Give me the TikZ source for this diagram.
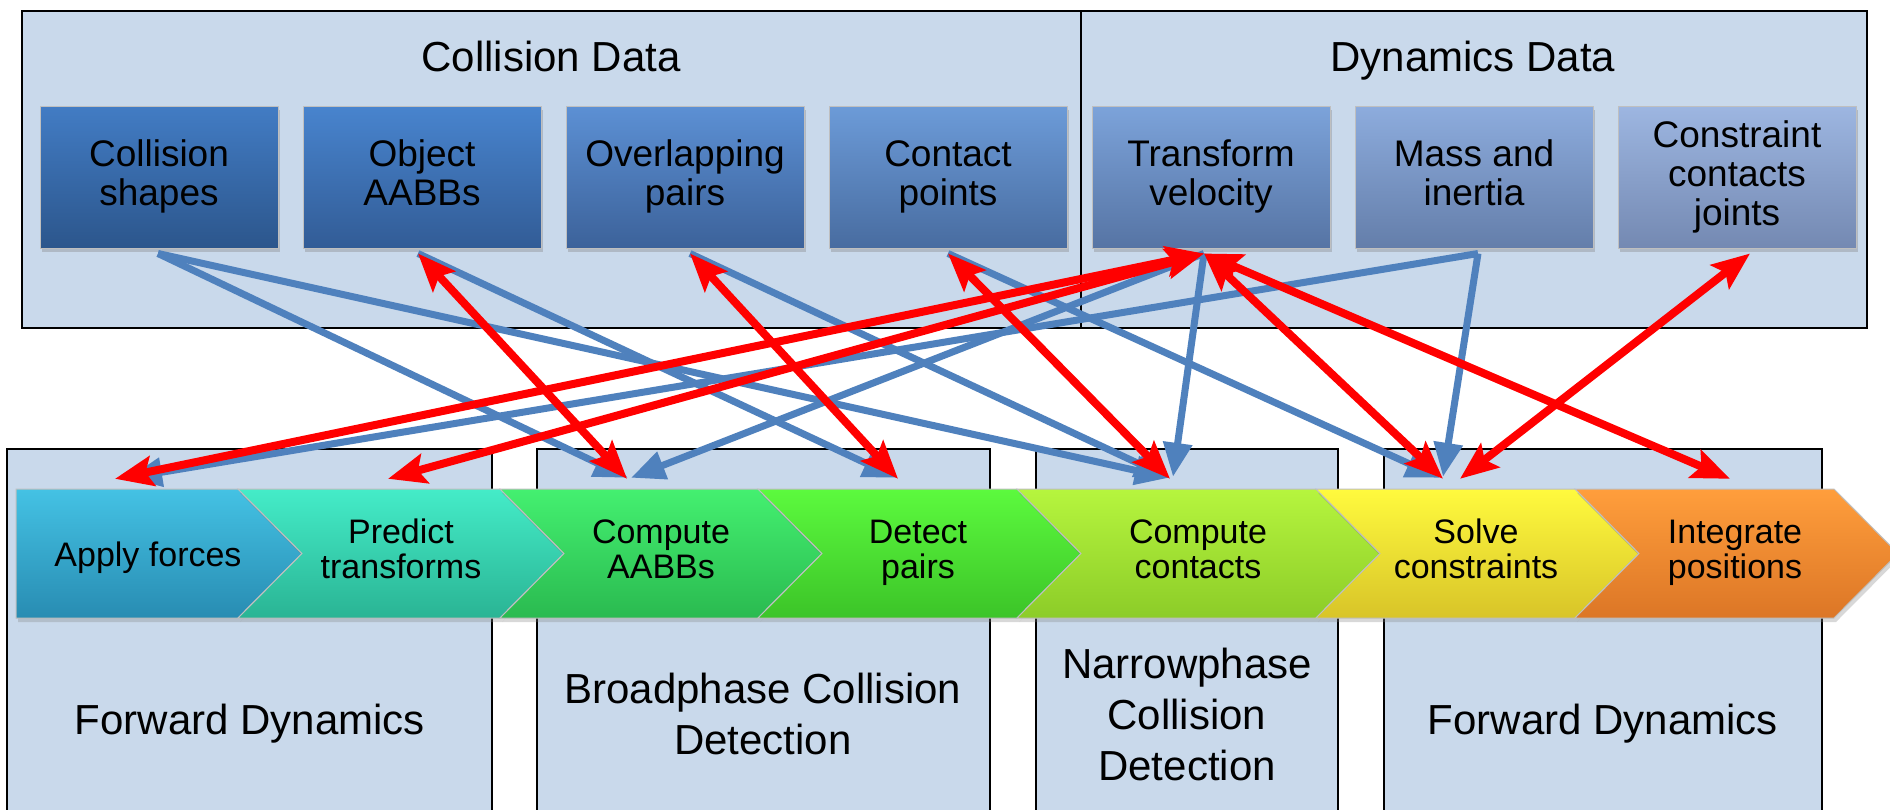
\documentclass[tikz,border=0pt]{standalone}
\usepackage{fontspec}
\setmainfont{Liberation Sans}
\usetikzlibrary{arrows.meta,shadows,positioning}

\definecolor{panelfill}{RGB}{201,217,235}
\definecolor{readblue}{RGB}{79,129,189}
\definecolor{writered}{RGB}{255,0,0}
% data boxes, top and bottom shades
\definecolor{shapesA}{RGB}{66,124,196}   \definecolor{shapesB}{RGB}{44,86,140}
\definecolor{objectA}{RGB}{72,132,206}   \definecolor{objectB}{RGB}{50,92,150}
\definecolor{overlapA}{RGB}{92,144,212}  \definecolor{overlapB}{RGB}{60,98,154}
\definecolor{contactA}{RGB}{108,155,216} \definecolor{contactB}{RGB}{72,108,160}
\definecolor{transfA}{RGB}{124,163,218}  \definecolor{transfB}{RGB}{86,116,164}
\definecolor{massA}{RGB}{141,172,221}    \definecolor{massB}{RGB}{100,126,170}
\definecolor{jointsA}{RGB}{157,182,225}  \definecolor{jointsB}{RGB}{116,137,178}
% pipeline stages
\definecolor{applyA}{RGB}{68,194,228}    \definecolor{applyB}{RGB}{40,140,178}
\definecolor{predictA}{RGB}{68,236,200}  \definecolor{predictB}{RGB}{42,180,148}
\definecolor{aabbsA}{RGB}{68,240,112}    \definecolor{aabbsB}{RGB}{42,186,80}
\definecolor{detectA}{RGB}{92,250,62}    \definecolor{detectB}{RGB}{60,196,40}
\definecolor{ccontA}{RGB}{182,245,62}    \definecolor{ccontB}{RGB}{140,204,40}
\definecolor{solveA}{RGB}{255,250,62}    \definecolor{solveB}{RGB}{216,196,40}
\definecolor{integA}{RGB}{255,158,60}    \definecolor{integB}{RGB}{220,118,38}

\tikzset{
    panel/.style = {draw=black, line width=2.5pt, fill=panelfill},
    paneltext/.style = {font=\fontsize{42}{51}\selectfont, align=center, inner sep=0pt,
        execute at begin node=\rule{0pt}{42pt}, execute at end node=\rule[-10pt]{0pt}{10pt}},
    databox/.style 2 args = {draw=black!25, line width=1pt, top color=#1, bottom color=#2,
        minimum width=238pt, minimum height=142pt, inner sep=0pt, align=center,
        font=\fontsize{37}{39}\selectfont,
        execute at begin node=\rule{0pt}{40pt}, execute at end node=\rule[-8pt]{0pt}{8pt},
        drop shadow={shadow xshift=2pt, shadow yshift=-4pt, opacity=0.35}},
    chevron/.style 2 args = {draw=black!25, line width=1pt, top color=#1, bottom color=#2,
        drop shadow={shadow xshift=2pt, shadow yshift=-4pt, opacity=0.3}},
    stage/.style = {minimum height=129pt, inner sep=0pt, align=center,
        font=\fontsize{34}{35}\selectfont,
        execute at begin node=\rule{0pt}{34pt}, execute at end node=\rule[-9pt]{0pt}{9pt}},
    rd/.style = {draw=readblue, line width=7pt, -{Triangle[length=34pt,width=28pt]}},
    rw/.style = {draw=writered, line width=8pt, <->,
        >={Stealth[length=38pt,width=30pt,inset=7pt]}}
}

\begin{document}
\begin{tikzpicture}[x=1pt, y=-1pt]
    \useasboundingbox (0,0) rectangle (1890,809);
    \clip (0,0) rectangle (1890,809);
    \fill[white] (0,0) rectangle (1890,809);

    % data panels
    \draw[panel] (22,11) rectangle (1081,328);
    \draw[panel] (1081,11) rectangle (1867,328);
    \node[paneltext] (coldata) at (551,55) {Collision Data};
    \node[paneltext] (dyndata) at (1473,55) {Dynamics Data};

    % stage panels
    \draw[panel] (7,449) rectangle (492,830);
    \draw[panel] (537,449) rectangle (990,830);
    \draw[panel] (1036,449) rectangle (1338,830);
    \draw[panel] (1384,449) rectangle (1822,830);
    \node[paneltext] (fwdA) at (250,718) {Forward Dynamics};
    \node[paneltext] (broad) at (763,719) {Broadphase Collision\\Detection};
    \node[paneltext] (narrow) at (1187,719) {Narrowphase\\Collision\\Detection};
    \node[paneltext] (fwdB) at (1603,718) {Forward Dynamics};

    % data
    \node[databox={shapesA}{shapesB}] (shapes) at (159,177) {Collision\\shapes};
    \node[databox={objectA}{objectB}] (object) [right=24pt of shapes] {Object\\AABBs};
    \node[databox={overlapA}{overlapB}] (overlap) [right=24pt of object] {Overlapping\\pairs};
    \node[databox={contactA}{contactB}] (contactpts) [right=24pt of overlap] {Contact\\points};
    \node[databox={transfA}{transfB}] (tv) [right=24pt of contactpts] {Transform\\velocity};
    \node[databox={massA}{massB}] (mass) [right=24pt of tv] {Mass and\\inertia};
    \node[databox={jointsA}{jointsB}] (joints) [right=24pt of mass] {Constraint\\contacts\\joints};

    % pipeline
    \path[chevron={applyA}{applyB}] (16,489) -- (238,489) -- (302,553.5) -- (238,618) -- (16,618) -- cycle;
    \path[chevron={predictA}{predictB}] (238,489) -- (500,489) -- (564,553.5) -- (500,618) -- (238,618) -- (302,553.5) -- cycle;
    \path[chevron={aabbsA}{aabbsB}] (500,489) -- (758,489) -- (822,553.5) -- (758,618) -- (500,618) -- (564,553.5) -- cycle;
    \path[chevron={detectA}{detectB}] (758,489) -- (1017,489) -- (1081,553.5) -- (1017,618) -- (758,618) -- (822,553.5) -- cycle;
    \path[chevron={ccontA}{ccontB}] (1017,489) -- (1316,489) -- (1380,553.5) -- (1316,618) -- (1017,618) -- (1081,553.5) -- cycle;
    \path[chevron={solveA}{solveB}] (1316,489) -- (1575,489) -- (1639,553.5) -- (1575,618) -- (1316,618) -- (1380,553.5) -- cycle;
    \path[chevron={integA}{integB}] (1575,489) -- (1834,489) -- (1898,553.5) -- (1834,618) -- (1575,618) -- (1639,553.5) -- cycle;

    \node[stage] (apply) at (148,553.5) {Apply forces};
    \node[stage] (predict) at (401,553.5) {Predict\\transforms};
    \node[stage] (aabbs) at (661,553.5) {Compute\\AABBs};
    \node[stage] (detect) at (918,553.5) {Detect\\pairs};
    \node[stage] (contacts) at (1198,553.5) {Compute\\contacts};
    \node[stage] (solve) at (1476,553.5) {Solve\\constraints};
    \node[stage] (integrate) at (1735,553.5) {Integrate\\positions};

    % reads
    \draw[rd] ([xshift=-1pt,yshift=-5pt]shapes.south) -- ([xshift=-33pt,yshift=11pt]aabbs.north);
    \draw[rd] ([xshift=-1pt,yshift=-5pt]shapes.south) -- ([xshift=-29pt,yshift=11pt]contacts.north);
    \draw[rd] ([xshift=-4pt,yshift=-5pt]object.south) -- ([xshift=-21pt,yshift=11pt]detect.north);
    \draw[rd] ([xshift=5pt,yshift=-5pt]overlap.south) -- ([xshift=-29pt,yshift=11pt]contacts.north);
    \draw[rd] ([yshift=-5pt]contactpts.south) -- ([xshift=-36pt,yshift=11pt]solve.north);
    \draw[rd] ([xshift=-7pt,yshift=-5pt]tv.south) -- ([xshift=-30pt,yshift=11pt]aabbs.north);
    \draw[rd] ([xshift=-7pt,yshift=-5pt]tv.south) -- ([xshift=-25pt,yshift=12pt]contacts.north);
    \draw[rd] ([xshift=4pt,yshift=-5pt]mass.south) -- ([xshift=-20pt,yshift=11pt]apply.north);
    \draw[rd] ([xshift=4pt,yshift=-5pt]mass.south) -- ([xshift=-33pt,yshift=12pt]solve.north);

    % read and write
    \draw[rw] ([xshift=-4pt,yshift=-5pt]object.south) -- ([xshift=-34pt,yshift=10pt]aabbs.north);
    \draw[rw] ([xshift=5pt,yshift=-5pt]overlap.south) -- ([xshift=-20pt,yshift=10pt]detect.north);
    \draw[rw] ([yshift=-5pt]contactpts.south) -- ([xshift=-28pt,yshift=10pt]contacts.north);
    \draw[rw] ([xshift=-7pt,yshift=-5pt]tv.south) -- ([xshift=-33pt,yshift=10pt]apply.north);
    \draw[rw] ([xshift=-7pt,yshift=-5pt]tv.south) -- ([xshift=-13pt,yshift=10pt]predict.north);
    \draw[rw] ([xshift=-7pt,yshift=-5pt]tv.south) -- ([xshift=-33pt,yshift=10pt]solve.north);
    \draw[rw] ([xshift=-7pt,yshift=-5pt]tv.south) -- ([xshift=-5pt,yshift=10pt]integrate.north);
    \draw[rw] ([xshift=13pt,yshift=-5pt]joints.south) -- ([xshift=-16pt,yshift=10pt]solve.north);
\end{tikzpicture}
\end{document}
